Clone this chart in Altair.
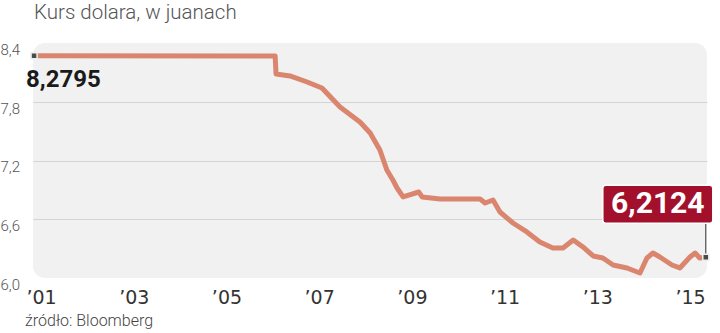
import altair as alt
import pandas as pd

# ---- data (decimal year, CNY per USD) ----
years = [2000.85, 2006.05, 2006.07, 2006.37, 2006.74, 2007.06, 2007.45, 2007.88,
         2008.10, 2008.31, 2008.46, 2008.59, 2008.68, 2008.81, 2009.15, 2009.22,
         2009.61, 2010.47, 2010.58, 2010.75, 2010.90, 2011.18, 2011.48, 2011.76,
         2012.04, 2012.26, 2012.48, 2012.69, 2012.91, 2013.12, 2013.34, 2013.64,
         2013.92, 2014.07, 2014.20, 2014.35, 2014.61, 2014.78, 2015.00, 2015.11,
         2015.21, 2015.34]
rates = [8.2795, 8.277, 8.092, 8.072, 8.010, 7.949, 7.754, 7.600,
         7.487, 7.313, 7.108, 7.005, 6.923, 6.831, 6.882, 6.831,
         6.810, 6.810, 6.769, 6.800, 6.677, 6.564, 6.472, 6.369,
         6.308, 6.308, 6.390, 6.318, 6.226, 6.205, 6.133, 6.103,
         6.051, 6.205, 6.256, 6.215, 6.133, 6.103, 6.215, 6.256,
         6.205, 6.2124]
tick_years = [2001, 2003, 2005, 2007, 2009, 2011, 2013, 2015]
y_ticks = [6.0, 6.6, 7.2, 7.8, 8.4]
title_text = "Kurs dolara, w juanach"
source_text = "źródło: Bloomberg"

df = pd.DataFrame({"t": years, "v": rates})
df["lab"] = df["v"].map(lambda v: f"{v:.4f}".replace(".", ","))
first = df.iloc[[0]]
last = df.iloc[[-1]]
ends = df.iloc[[0, -1]]

xs = alt.Scale(domain=[2000.827, 2015.366], nice=False, zero=False)
ys = alt.Scale(domain=[6.0, 8.41], nice=False, zero=False)

x_axis = alt.Axis(values=tick_years, labelExpr="'\u2019' + substring(toString(datum.value), 2, 4)",
                  grid=False, domain=False, ticks=False, labelFont="DejaVu Sans",
                  labelFontSize=19, labelColor="#333333", labelPadding=10, title=None)
y_axis = alt.Axis(values=y_ticks, labelExpr="replace(format(datum.value, '.1f'), '.', ',')",
                  labelAlign="left", labelPadding=33, ticks=False, domain=False, grid=True,
                  gridColor={"condition": {"test": "datum.value < 6.1 || datum.value > 8.3",
                                           "value": "transparent"}, "value": "#d4d4d4"},
                  gridWidth=1, labelFont="Roboto", labelFontWeight=300, labelFontSize=15,
                  labelColor="#555555", labelOffset=6, title=None)

X = alt.X("t:Q", scale=xs, axis=x_axis)
Y = alt.Y("v:Q", scale=ys, axis=y_axis)

line = alt.Chart(df).mark_line(color="#DA866F", strokeWidth=5, strokeJoin="round",
                               strokeCap="round").encode(x=X, y=Y)

pts = alt.Chart(ends).mark_point(shape="square", filled=True, size=36, fill="#4a4a4a",
                                 stroke="#eeeeee", strokeWidth=1.5, opacity=1).encode(
    x=alt.X("t:Q", scale=xs), y=alt.Y("v:Q", scale=ys))

first_lab = alt.Chart(first).mark_text(font="Roboto", fontWeight="bold", fontSize=24,
                                       color="#1a1a1a", align="left", baseline="middle",
                                       dx=-8, dy=24).encode(
    x=alt.X("t:Q", scale=xs), y=alt.Y("v:Q", scale=ys), text="lab:N")

conn = alt.Chart(last).mark_rule(color="#333333", strokeWidth=1, y2Offset=-34).encode(
    x=alt.X("t:Q", scale=xs), y=alt.Y("v:Q", scale=ys), y2="v:Q")

box = alt.Chart(last).mark_rect(fill="#A3102C", stroke="#ffffff", strokeWidth=1.5,
                                cornerRadius=3, xOffset=-103, x2Offset=7,
                                yOffset=-72, y2Offset=-34).encode(
    x=alt.X("t:Q", scale=xs), x2="t:Q", y=alt.Y("v:Q", scale=ys), y2="v:Q")

last_lab = alt.Chart(last).mark_text(font="Roboto", fontWeight="bold", fontSize=30,
                                     color="#ffffff", align="center", baseline="middle",
                                     dx=-48, dy=-53).encode(
    x=alt.X("t:Q", scale=xs), y=alt.Y("v:Q", scale=ys), text="lab:N")

title = alt.Chart(pd.DataFrame({"s": [title_text]})).mark_text(
    font="Roboto", fontWeight=300, fontSize=20.5, color="#555555", align="left",
    baseline="alphabetic").encode(x=alt.value(1), y=alt.value(-24), text="s:N")

source = alt.Chart(pd.DataFrame({"s": [source_text]})).mark_text(
    font="Roboto", fontWeight=300, fontSize=16, color="#444444", align="left",
    baseline="alphabetic").encode(x=alt.value(-8), y=alt.value(283), text="s:N")

chart = alt.layer(line, conn, pts, first_lab, box, last_lab, title, source).properties(
    width=674, height=235,
    padding={"left": 33, "top": 43, "right": 13, "bottom": 55},
    autosize=alt.AutoSizeParams(type="none"),
).configure_view(fill="#f1f1f1", stroke=None, cornerRadius=12)

chart.save("out.html", embed_options={"renderer": "svg", "actions": False})
